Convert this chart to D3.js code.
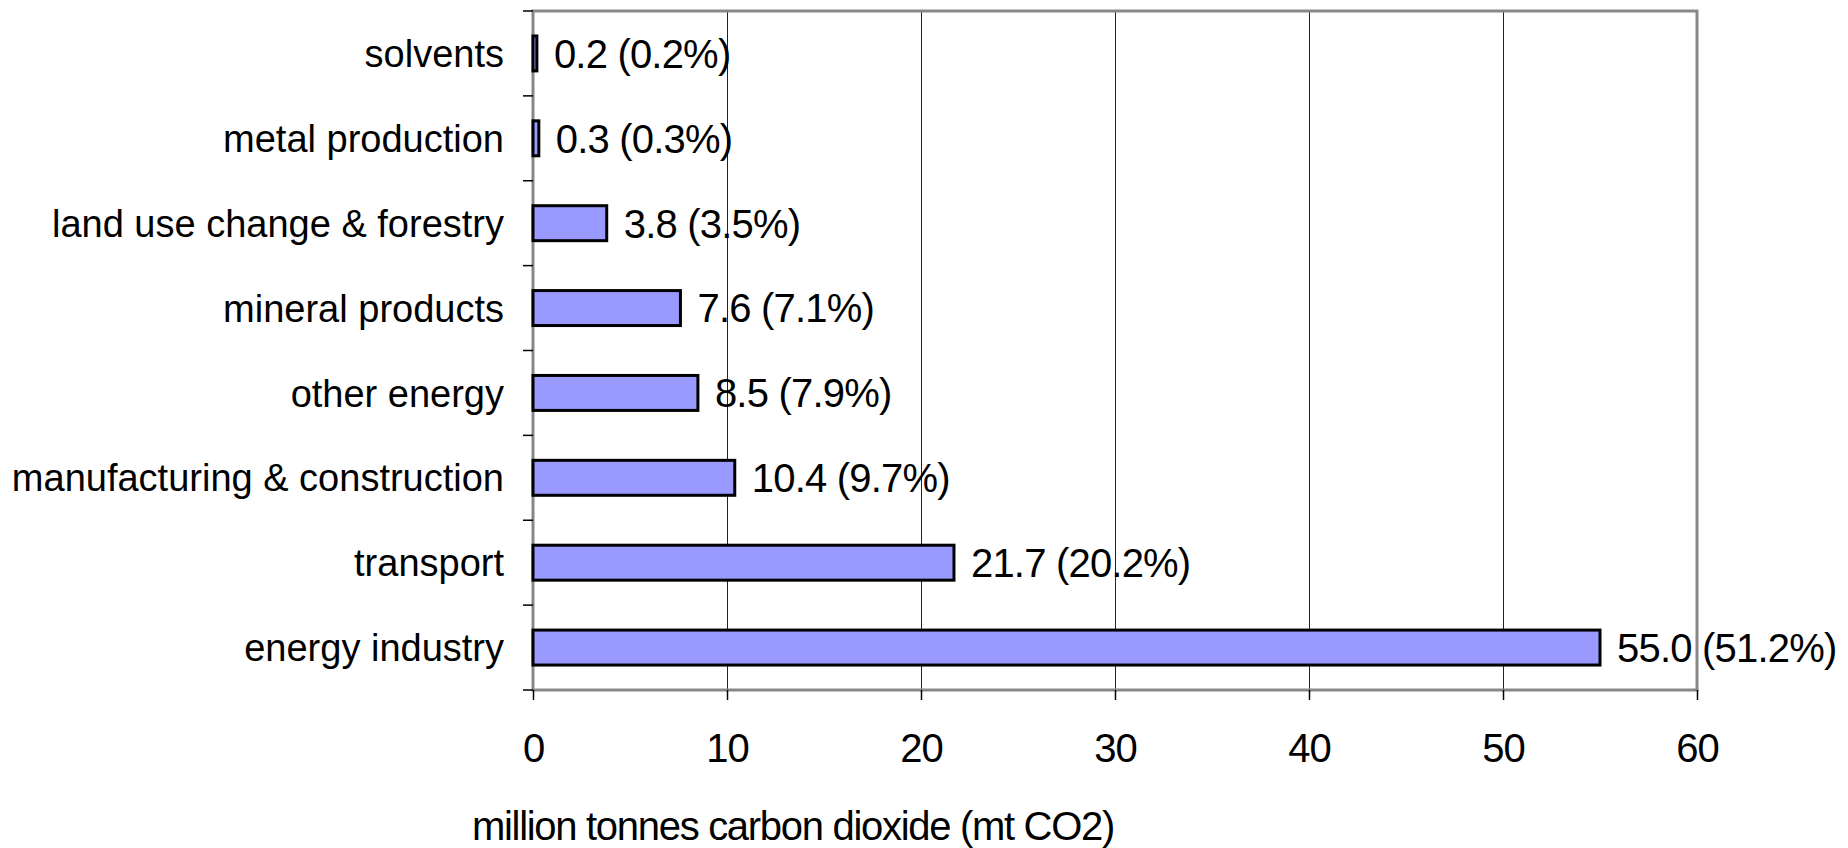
<!DOCTYPE html>
<html>
<head>
<meta charset="utf-8">
<script src="https://cdn.jsdelivr.net/npm/d3@7"></script>
<style>
  html, body { margin: 0; padding: 0; background: #fff; }
  svg { display: block; font-family: "Liberation Sans", Arial, sans-serif; }
</style>
</head>
<body>
<svg id="chart" width="1848" height="848"></svg>
<script>
// Data (top to bottom)
const categories = ["solvents", "metal production", "land use change & forestry", "mineral products",
  "other energy", "manufacturing & construction", "transport", "energy industry"];
const values = [0.2, 0.3, 3.8, 7.6, 8.5, 10.4, 21.7, 55.0];
const shares = [0.2, 0.3, 3.5, 7.1, 7.9, 9.7, 20.2, 51.2];
const xTicks = [0, 10, 20, 30, 40, 50, 60];
const xTitle = "million tonnes carbon dioxide (mt CO2)";

(function () {
const svg = d3.select("#chart");
const pLeft = 533, pRight = 1697, pTop = 11, pBottom = 690;

const x = d3.scaleLinear().domain([0, 60]).range([pLeft, pRight]);
const pad = 0.588;
const y = d3.scaleBand().domain(categories).range([pTop, pBottom]).paddingInner(pad).paddingOuter(pad / 2);

// gridlines
svg.append("g").selectAll("line").data(xTicks.filter(d => d > 0 && d < 60)).join("line")
  .attr("x1", d => Math.round(x(d)) + 0.5).attr("x2", d => Math.round(x(d)) + 0.5)
  .attr("y1", pTop).attr("y2", pBottom)
  .attr("stroke", "#222").attr("stroke-width", 1);

// plot border
svg.append("rect").attr("x", pLeft).attr("y", pTop)
  .attr("width", pRight - pLeft).attr("height", pBottom - pTop)
  .attr("fill", "none").attr("stroke", "#888").attr("stroke-width", 3);

// x axis
const xAxis = svg.append("g").attr("transform", `translate(0,${pBottom})`)
  .call(d3.axisBottom(x).tickValues(xTicks).tickSize(10).tickPadding(34).tickFormat(d3.format("d")));
xAxis.select(".domain").remove();
xAxis.selectAll(".tick line").attr("stroke", "#000").attr("stroke-width", 1.5);
xAxis.selectAll(".tick text").attr("font-size", 40).attr("fill", "#000")
  .attr("font-family", "Liberation Sans, Arial, sans-serif").attr("letter-spacing", "-1px");

// y ticks at band boundaries
const step = y.step();
const boundaries = d3.range(categories.length + 1).map(i => pTop + i * step);
svg.append("g").selectAll("line").data(boundaries).join("line")
  .attr("x1", pLeft - 10).attr("x2", pLeft)
  .attr("y1", d => d).attr("y2", d => d)
  .attr("stroke", "#000").attr("stroke-width", 1.5);

// category labels
svg.append("g").selectAll("text").data(categories).join("text")
  .attr("x", pLeft - 29)
  .attr("y", d => y(d) + y.bandwidth() / 2)
  .attr("dy", "0.36em")
  .attr("text-anchor", "end")
  .attr("font-size", 38)
  .attr("fill", "#000")
  .text(d => d);

// bars
svg.append("g").selectAll("rect").data(categories).join("rect")
  .attr("x", x(0))
  .attr("y", d => y(d))
  .attr("width", (d, i) => x(values[i]) - x(0))
  .attr("height", y.bandwidth())
  .attr("fill", "#9999FF")
  .attr("stroke", "#000")
  .attr("stroke-width", 3);

// data labels
svg.append("g").selectAll("text").data(categories).join("text")
  .attr("x", (d, i) => x(values[i]) + 17)
  .attr("y", d => y(d) + y.bandwidth() / 2)
  .attr("dy", "0.36em")
  .attr("font-size", 40)
  .attr("letter-spacing", "-0.8px")
  .attr("fill", "#000")
  .text((d, i) => `${values[i].toFixed(1)} (${shares[i].toFixed(1)}%)`);

// x axis title
svg.append("text")
  .attr("x", 793).attr("y", 840)
  .attr("text-anchor", "middle")
  .attr("font-size", 40)
  .attr("letter-spacing", "-1.3px")
  .attr("fill", "#000")
  .text(xTitle);
})();
</script>
</body>
</html>
